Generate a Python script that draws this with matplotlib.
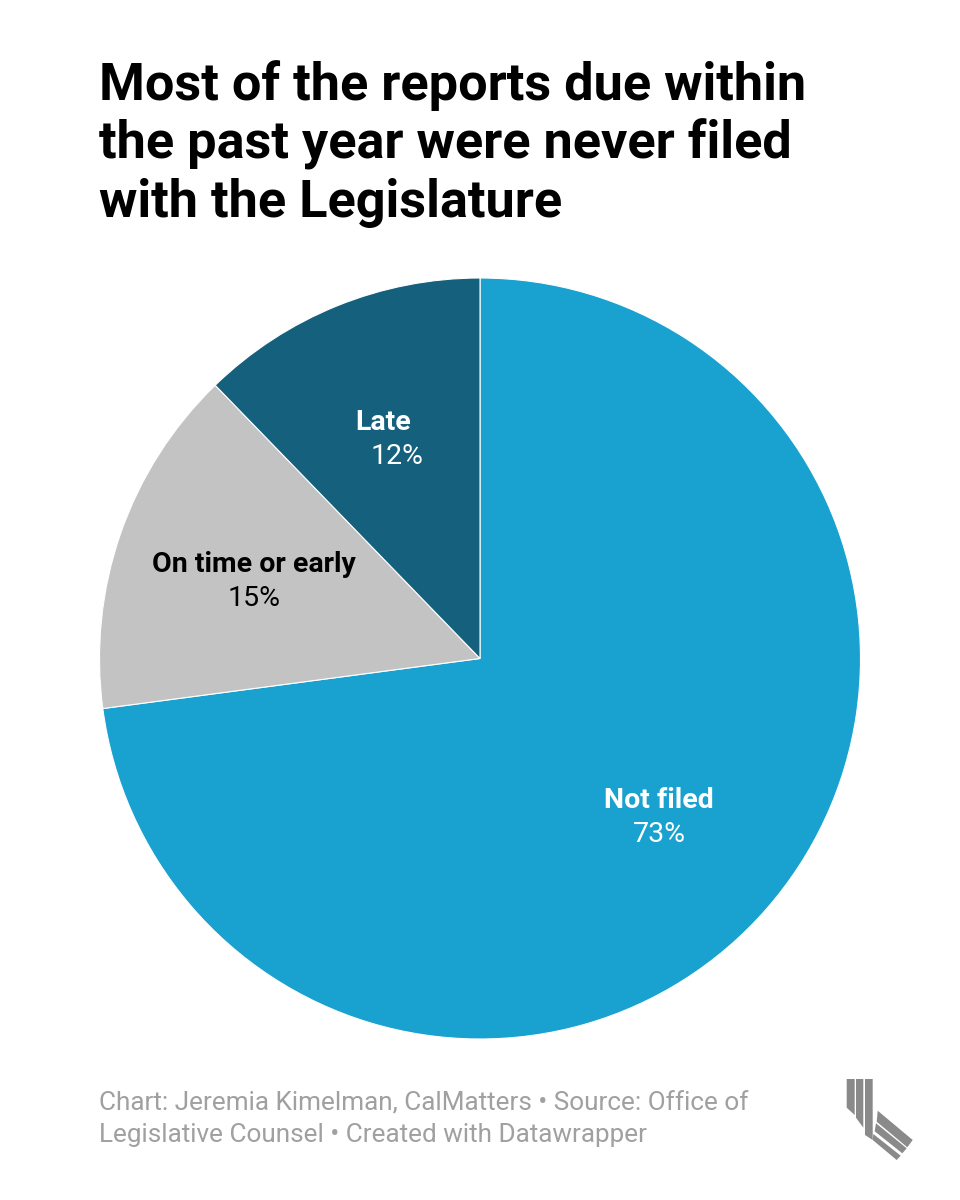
import matplotlib
matplotlib.use("Agg")
import matplotlib.pyplot as plt
from matplotlib.patches import Polygon

plt.rcParams['font.family'] = ['Roboto', 'DejaVu Sans']

title = "Most of the reports due within\nthe past year were never filed\nwith the Legislature"
footer = "Chart: Jeremia Kimelman, CalMatters • Source: Office of\nLegislative Counsel • Created with Datawrapper"

labels = ['Not filed', 'On time or early', 'Late']
values = [72.9, 14.85, 12.25]
pct_text = ['73%', '15%', '12%']
colors = ['#19a2d0', '#c3c3c3', '#15607c']
text_colors = ['white', 'black', 'white']
# label centres in pixels of the reference
label_xy = [(659, 800), (254, 565), (383, 423)]
pct_xy = [(659, 834), (254, 599), (397, 456)]

W, H = 960, 1200
fig = plt.figure(figsize=(W / 100, H / 100), dpi=100, facecolor='white')

# pie
cx, cy, r = 480, 658.5, 380.5
ax = fig.add_axes([(cx - r) / W, 1 - (cy + r) / H, 2 * r / W, 2 * r / H])
ax.pie(values, colors=colors, startangle=90, counterclock=False, radius=1,
       wedgeprops={'edgecolor': 'white', 'linewidth': 0.8})
ax.set_xlim(-1, 1)
ax.set_ylim(-1, 1)
ax.set_aspect('equal')

# overlay in pixel coordinates
ov = fig.add_axes([0, 0, 1, 1])
ov.set_xlim(0, W)
ov.set_ylim(H, 0)
ov.axis('off')
ov.patch.set_alpha(0)

ov.text(99, 60, title, fontsize=37.6, fontweight='bold', color='black',
        va='top', ha='left', linespacing=1.2)

for i in range(len(labels)):
    ov.text(label_xy[i][0], label_xy[i][1], labels[i], fontsize=20.5, fontweight='bold',
            color=text_colors[i], ha='center', va='center')
    ov.text(pct_xy[i][0], pct_xy[i][1], pct_text[i], fontsize=20.5,
            color=text_colors[i], ha='center', va='center')

ov.text(99, 1092, footer, fontsize=18.8, color='#a0a0a0', va='top', ha='left',
        linespacing=1.36)

# logo
logo_color = '#8a8a8a'
logo = [
    [(846.7, 1079), (854.7, 1079), (854.7, 1115), (846.7, 1107.7)],
    [(856, 1079), (863.3, 1079), (863.3, 1127.7), (856, 1117.7)],
    [(865, 1079), (872.7, 1079), (872.7, 1140), (865, 1135)],
    [(877.7, 1110.7), (912.7, 1140), (907.3, 1147.3), (876.7, 1121.7)],
    [(876, 1123.3), (906.7, 1148.3), (902.3, 1153.3), (874.7, 1131.3)],
    [(873.3, 1134), (900.7, 1155.7), (896.7, 1160), (872.7, 1140)],
]
for pts in logo:
    ov.add_patch(Polygon(pts, closed=True, facecolor=logo_color, edgecolor='none'))

fig.savefig('out.png', dpi=100)
